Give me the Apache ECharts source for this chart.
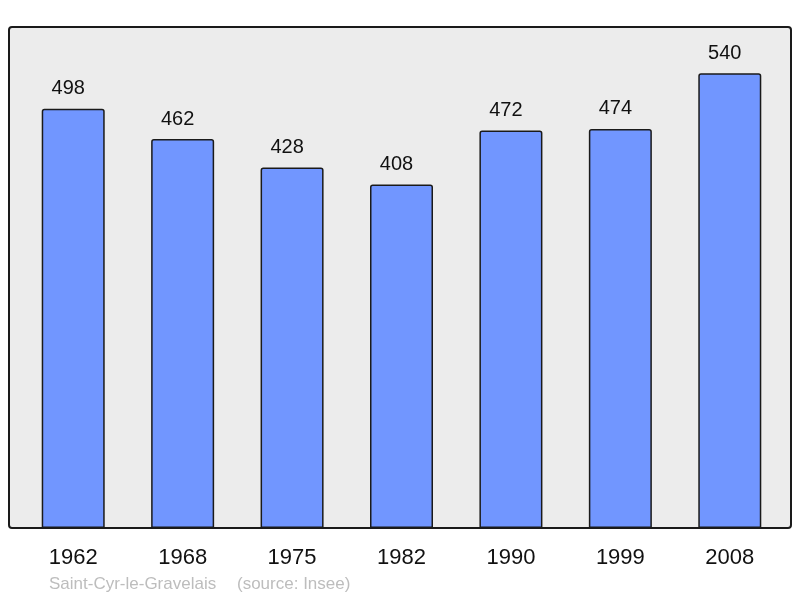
<!DOCTYPE html>
<html>
<head>
<meta charset="utf-8">
<style>
  html, body { margin: 0; padding: 0; background: #fff; }
  #chart { width: 800px; height: 598px; }
</style>
<script src="https://cdn.jsdelivr.net/npm/echarts@6/dist/echarts.min.js"></script>
</head>
<body>
<div id="chart"></div>
<script>
  // --- Data ---
  var years = ['1962', '1968', '1975', '1982', '1990', '1999', '2008'];
  var population = [498, 462, 428, 408, 472, 474, 540];
  var townName = 'Saint-Cyr-le-Gravelais';
  var sourceNote = '(source: Insee)';

  var chart = echarts.init(document.getElementById('chart'), null, { renderer: 'canvas' });
  var font = '"Liberation Sans", Arial, sans-serif';

  chart.setOption({
    animation: false,
    textStyle: { fontFamily: font },
    graphic: [
      {
        type: 'rect',
        z: -10,
        shape: { x: 9, y: 27, width: 782, height: 501, r: 3 },
        style: { fill: '#ececec', stroke: '#1a1a1a', lineWidth: 2 }
      },
      {
        type: 'text',
        left: 49,
        top: 576,
        style: { text: townName, fill: '#bdbdbd', font: '17px ' + font }
      },
      {
        type: 'text',
        left: 237,
        top: 576,
        style: { text: sourceNote, fill: '#bdbdbd', font: '17px ' + font }
      }
    ],
    grid: { left: 18.5, right: 15.5, top: 27, bottom: 70 },
    xAxis: {
      type: 'category',
      data: years,
      axisLine: { show: false },
      axisTick: { show: false },
      axisLabel: { color: '#111', fontSize: 22, margin: 19, fontFamily: font }
    },
    yAxis: {
      type: 'value',
      min: 0,
      max: 595,
      show: false,
      splitLine: { show: false }
    },
    series: [{
      type: 'bar',
      data: population,
      barWidth: 63,
      itemStyle: {
        color: '#7196ff',
        borderColor: '#1a1a1a',
        borderWidth: 1.5,
        borderRadius: [2, 2, 0, 0]
      },
      label: {
        show: true,
        position: 'top',
        distance: 10,
        offset: [-5, 0],
        color: '#111',
        fontSize: 20,
        fontFamily: font
      }
    }]
  });
</script>
</body>
</html>
